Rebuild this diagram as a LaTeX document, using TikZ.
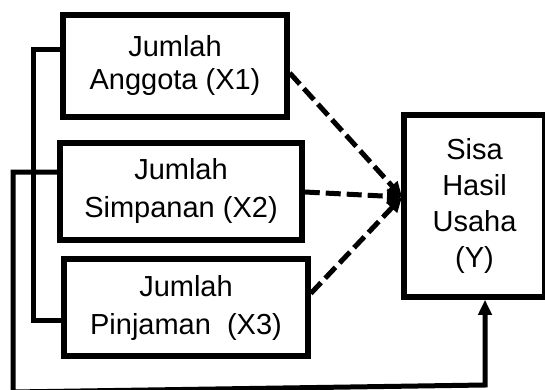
\documentclass[tikz,border=0pt]{standalone}
\usepackage{fontspec}
\setmainfont{Liberation Sans}
\usetikzlibrary{arrows.meta,calc}

\tikzset{
  varbox/.style={draw=black, line width=5.5pt, rectangle, align=center,
    inner sep=0pt, font=\fontsize{29}{38}\selectfont},
  link/.style={line width=5pt, line join=miter},
  dashlink/.style={line width=5pt, dash pattern=on 15pt off 6pt,
    -{Triangle[length=15pt,width=14pt]}},
  tip/.style={-{Triangle[length=15pt,width=13pt]}}
}

\begin{document}
\begin{tikzpicture}[x=1pt,y=-1pt]
  \useasboundingbox (0,0) rectangle (545,390);

  % independent variables
  \node[varbox, minimum width=224pt, minimum height=102pt,
        font=\fontsize{29}{33}\selectfont] (x1) at (175,66)
        {Jumlah\\Anggota (X1)};
  \node[varbox, minimum width=242pt, minimum height=97pt] (x2) at (181,191.5)
        {Jumlah\\Simpanan (X2)};
  \node[varbox, minimum width=244pt, minimum height=97pt] (x3) at (186,307.5)
        {Jumlah\\Pinjaman\ \ (X3)};

  % dependent variable
  \node[varbox, minimum width=141pt, minimum height=182pt,
        font=\fontsize{29}{36}\selectfont] (y) at (474.5,206)
        {Sisa\\Hasil\\Usaha\\(Y)};

  % partial effects
  \coordinate (t) at (402,197);
  \draw[dashlink] ($(x1.east)+(0,7)$) -- (t);
  \draw[dashlink] ($(x2.east)+(0,0.5)$) -- (t);
  \draw[dashlink] ($(x3.east)+(0,-14)$) -- (t);

  % bracket joining X1 and X3
  \coordinate (k1) at (33,50);
  \coordinate (k3) at (33,320);
  \draw[link] (x1.west |- k1) -- (k1) -- (k3) -- (x3.west |- k3);

  % joint effect path to Y
  \coordinate (k2) at (13,172);
  \coordinate (k4) at (13,392);
  \coordinate (k5) at (485,385);
  \draw[link, tip] (x2.west |- k2) -- (k2) -- (k4) -- (k5) -- (y.south -| k5);
\end{tikzpicture}
\end{document}
